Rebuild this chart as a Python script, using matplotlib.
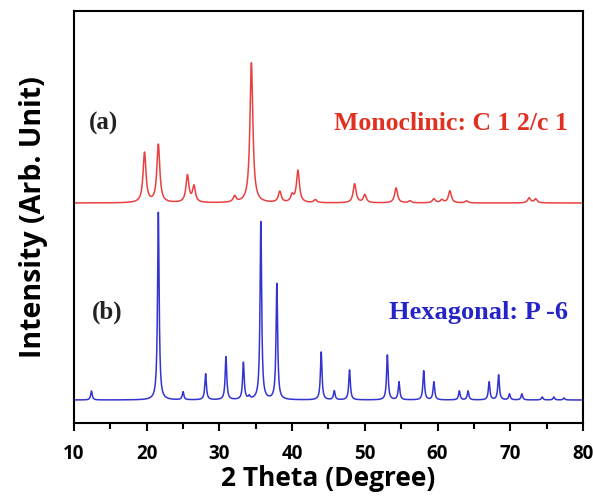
import matplotlib
matplotlib.use("Agg")
import matplotlib.pyplot as plt
import numpy as np
from matplotlib.ticker import MultipleLocator

# Peak lists (2theta in degrees, height in arbitrary units)
mono_pos = [19.7, 21.6, 25.6, 26.5, 32.1, 34.4, 38.3, 40.0, 40.8, 43.2,
            48.6, 50.0, 54.3, 56.2, 59.5, 60.6, 61.7, 64.0, 72.6, 73.5]
mono_height = [50, 58, 27, 16, 6, 140, 11, 7, 32, 3,
               19, 8, 15, 2, 4, 3, 12, 2, 5, 4]

hexa_pos = [12.4, 21.6, 25.0, 28.1, 30.9, 33.3, 34.1, 35.7, 37.9, 44.0,
            45.8, 47.9, 53.1, 54.7, 58.1, 59.5, 63.0, 64.2, 67.1, 68.4,
            69.9, 71.6, 74.4, 76.0, 77.4]
hexa_height = [9, 188, 8, 26, 43, 37, 3, 178, 116, 48,
               9, 30, 45, 18, 29, 18, 9, 9, 18, 25,
               6, 6, 3, 3, 2]

mono_base = 220
hexa_base = 23


def pattern(x, pos, height, hwhm):
    y = np.zeros_like(x)
    for p, h in zip(pos, height):
        y += h / (1 + ((x - p) / hwhm) ** 2)
    return y


two_theta = np.linspace(10, 80, 4000)
mono = mono_base + pattern(two_theta, mono_pos, mono_height, 0.24)
hexa = hexa_base + pattern(two_theta, hexa_pos, hexa_height, 0.13)

fig = plt.figure(figsize=(5.93, 4.97), dpi=100)
ax = fig.add_axes([0.1248, 0.1489, 0.8582, 0.8289])

ax.plot(two_theta, mono, color="#e8413f", lw=1.1)
ax.plot(two_theta, hexa, color="#3434d0", lw=1.1)

ax.set_xlim(10, 80)
ax.set_ylim(0, 412)
ax.set_yticks([])
ax.xaxis.set_major_locator(MultipleLocator(10))
ax.xaxis.set_minor_locator(MultipleLocator(5))
ax.tick_params(axis="x", which="major", direction="out", length=6, width=1.5,
               labelsize=13.5, pad=9)
ax.tick_params(axis="x", which="minor", direction="out", length=4, width=1.5)
for s in ax.spines.values():
    s.set_linewidth(1.5)
for lab in ax.get_xticklabels():
    lab.set_fontfamily("Open Sans")
    lab.set_fontweight("bold")

ax.set_xlabel("2 Theta (Degree)", fontsize=19, fontweight="bold",
              fontfamily="Open Sans", labelpad=1)
ax.set_ylabel("Intensity (Arb. Unit)", fontsize=20.5, fontweight="bold",
              fontfamily="Open Sans", labelpad=19)

serif = "Liberation Serif"
ax.text(14, 300, "(a)", fontsize=18, fontweight="bold", family=serif,
        ha="center", va="center", color="#222222")
ax.text(14.5, 111, "(b)", fontsize=18, fontweight="bold", family=serif,
        ha="center", va="center", color="#222222")
ax.text(77.9, 300, "Monoclinic: C 1 2/c 1", fontsize=18.5, fontweight="bold",
        family=serif, ha="right", va="center", color="#e03020")
ax.text(77.9, 111, "Hexagonal: P -6", fontsize=19, fontweight="bold",
        family=serif, ha="right", va="center", color="#2424c8")

fig.savefig("out.png", dpi=100)
